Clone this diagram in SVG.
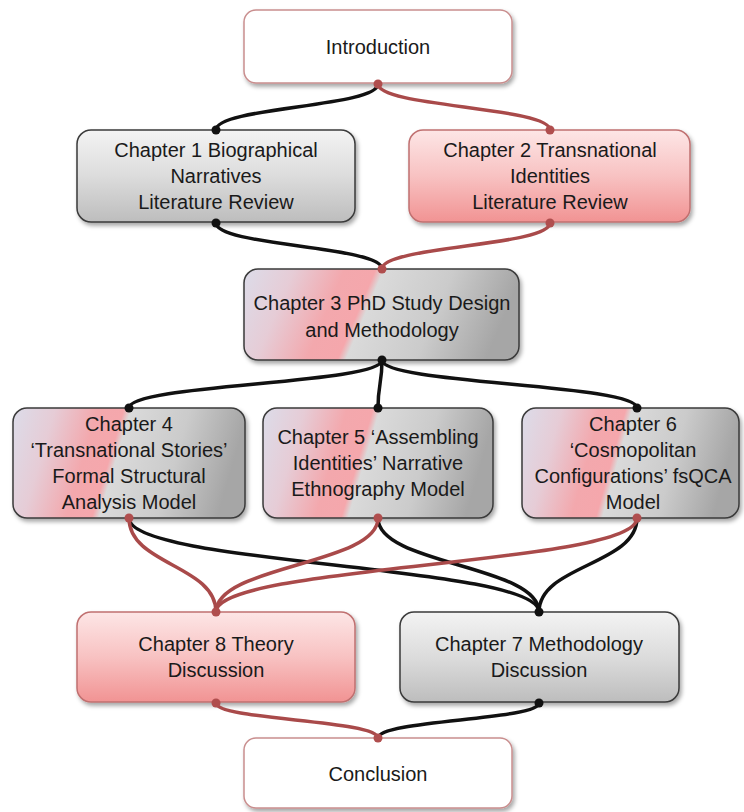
<svg xmlns="http://www.w3.org/2000/svg" width="744" height="812" viewBox="0 0 744 812">
  <defs>
    <linearGradient id="gradGray" x1="0" y1="0" x2="0" y2="1">
      <stop offset="0" stop-color="#f3f3f3"/>
      <stop offset="0.5" stop-color="#dcdcdc"/>
      <stop offset="1" stop-color="#bdbdbd"/>
    </linearGradient>
    <linearGradient id="gradPink" x1="0" y1="0" x2="0" y2="1">
      <stop offset="0" stop-color="#fde6e6"/>
      <stop offset="0.5" stop-color="#f8c2c2"/>
      <stop offset="1" stop-color="#f19393"/>
    </linearGradient>
    <linearGradient id="gradMix" x1="0" y1="0" x2="1" y2="0.14">
      <stop offset="0" stop-color="#dcdce9"/>
      <stop offset="0.18" stop-color="#e6ccd6"/>
      <stop offset="0.36" stop-color="#f3a8ad"/>
      <stop offset="0.47" stop-color="#f5a7ac"/>
      <stop offset="0.5" stop-color="#dadada"/>
      <stop offset="0.75" stop-color="#cbcbcb"/>
      <stop offset="1" stop-color="#a6a6a6"/>
    </linearGradient>
    <filter id="shadow" x="-10%" y="-10%" width="125%" height="135%">
      <feDropShadow dx="2" dy="3" stdDeviation="2" flood-color="#000" flood-opacity="0.35"/>
    </filter>
  </defs>
  <style>
    .box { stroke-width: 1.5; filter: url(#shadow); }
    .plain { fill: #ffffff; stroke: #c98e8e; }
    .gray { fill: url(#gradGray); stroke: #3a3a3a; }
    .pink { fill: url(#gradPink); stroke: #c07070; }
    .mix { fill: url(#gradMix); stroke: #3a3a3a; }
    text { font-family: "Liberation Sans", Arial, sans-serif; font-size: 20px; fill: #1a1a1a; text-anchor: middle; }
    .wire { fill: none; stroke-width: 3.5; stroke-linecap: round; }
    .blk { stroke: #111111; }
    .red { stroke: #a94a4a; }
    .dotb { fill: #111111; }
    .dotr { fill: #b04e4e; }
  </style>

  <rect width="744" height="812" fill="#ffffff"/>

  <!-- nodes -->
  <g id="introduction">
    <rect class="box plain" x="244" y="10" width="268" height="73" rx="12"/>
    <text x="378" y="54">Introduction</text>
  </g>

  <g id="chapter1">
    <rect class="box gray" x="77" y="130" width="278" height="92" rx="14"/>
    <text x="216" y="157">Chapter 1 Biographical</text>
    <text x="216" y="183">Narratives</text>
    <text x="216" y="209">Literature Review</text>
  </g>

  <g id="chapter2">
    <rect class="box pink" x="409" y="130" width="281" height="92" rx="14"/>
    <text x="550" y="157">Chapter 2 Transnational</text>
    <text x="550" y="183">Identities</text>
    <text x="550" y="209">Literature Review</text>
  </g>

  <g id="chapter3">
    <rect class="box mix" x="244" y="269" width="275" height="91" rx="14"/>
    <text x="382" y="310">Chapter 3 PhD Study Design</text>
    <text x="382" y="337">and Methodology</text>
  </g>

  <g id="chapter4">
    <rect class="box mix" x="13" y="408" width="232" height="110" rx="14"/>
    <text x="129" y="431">Chapter 4</text>
    <text x="129" y="457">‘Transnational Stories’</text>
    <text x="129" y="483">Formal Structural</text>
    <text x="129" y="509">Analysis Model</text>
  </g>

  <g id="chapter5">
    <rect class="box mix" x="263" y="408" width="230" height="110" rx="14"/>
    <text x="378" y="444">Chapter 5 ‘Assembling</text>
    <text x="378" y="470">Identities’ Narrative</text>
    <text x="378" y="496">Ethnography Model</text>
  </g>

  <g id="chapter6">
    <rect class="box mix" x="522" y="408" width="217" height="110" rx="14"/>
    <text x="633" y="431">Chapter 6</text>
    <text x="633" y="457">‘Cosmopolitan</text>
    <text x="633" y="483">Configurations’ fsQCA</text>
    <text x="633" y="509">Model</text>
  </g>

  <g id="chapter8">
    <rect class="box pink" x="77" y="612" width="278" height="90" rx="14"/>
    <text x="216" y="651">Chapter 8 Theory</text>
    <text x="216" y="677">Discussion</text>
  </g>

  <g id="chapter7">
    <rect class="box gray" x="400" y="612" width="279" height="90" rx="14"/>
    <text x="539" y="651">Chapter 7 Methodology</text>
    <text x="539" y="677">Discussion</text>
  </g>

  <g id="conclusion">
    <rect class="box plain" x="244" y="738" width="268" height="70" rx="12"/>
    <text x="378" y="781">Conclusion</text>
  </g>

  <!-- connectors -->
  <g id="connectors">
    <path class="wire blk" d="M378,84 C378,107 216,107 216,130"/>
    <path class="wire red" d="M378,84 C378,107 550,107 550,130"/>

    <path class="wire blk" d="M216,223 C216,246 382,246 382,269"/>
    <path class="wire red" d="M550,223 C550,246 382,246 382,269"/>

    <path class="wire blk" d="M382,360 C382,384 129,384 129,408"/>
    <path class="wire blk" d="M382,360 C382,384 378,384 378,408"/>
    <path class="wire blk" d="M382,360 C382,384 637,384 637,408"/>

    <path class="wire blk" d="M129,518 C129,565 539,565 539,612"/>
    <path class="wire blk" d="M378,518 C378,565 539,565 539,612"/>
    <path class="wire blk" d="M637,518 C637,565 539,565 539,612"/>
    <path class="wire red" d="M129,518 C129,565 216,565 216,612"/>
    <path class="wire red" d="M378,518 C378,565 216,565 216,612"/>
    <path class="wire red" d="M637,518 C637,565 216,565 216,612"/>

    <path class="wire red" d="M216,703 C216,720 378,720 378,738"/>
    <path class="wire blk" d="M539,703 C539,720 378,720 378,738"/>

    <circle class="dotr" cx="378" cy="84" r="4.5"/>
    <circle class="dotb" cx="216" cy="130" r="4.5"/>
    <circle class="dotr" cx="550" cy="130" r="4.5"/>
    <circle class="dotb" cx="216" cy="223" r="4.5"/>
    <circle class="dotr" cx="550" cy="223" r="4.5"/>
    <circle class="dotr" cx="382" cy="269" r="4.5"/>
    <circle class="dotb" cx="382" cy="360" r="4.5"/>
    <circle class="dotb" cx="129" cy="408" r="4.5"/>
    <circle class="dotb" cx="378" cy="408" r="4.5"/>
    <circle class="dotb" cx="637" cy="408" r="4.5"/>
    <circle class="dotr" cx="129" cy="518" r="4.5"/>
    <circle class="dotr" cx="378" cy="518" r="4.5"/>
    <circle class="dotr" cx="637" cy="518" r="4.5"/>
    <circle class="dotr" cx="216" cy="612" r="4.5"/>
    <circle class="dotb" cx="539" cy="612" r="4.5"/>
    <circle class="dotr" cx="216" cy="703" r="4.5"/>
    <circle class="dotb" cx="539" cy="703" r="4.5"/>
    <circle class="dotr" cx="378" cy="738" r="4.5"/>
  </g>
</svg>
